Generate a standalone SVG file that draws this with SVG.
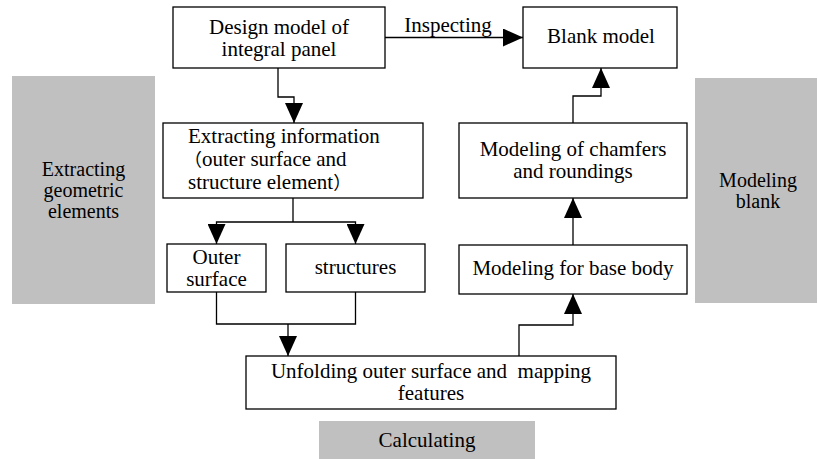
<svg xmlns="http://www.w3.org/2000/svg" width="818" height="459" viewBox="0 0 818 459">
<style>
  .box { fill: #ffffff; stroke: #000000; stroke-width: 1.3; }
  .gray { fill: #c0c0c0; stroke: none; }
  .t { font-family: 'Liberation Serif', 'Times New Roman', serif; font-size: 21px; fill: #000000; text-anchor: middle; }
  .g { font-size: 20px; }
  .ts { text-anchor: start; }
  .cjk { font-family: 'Noto Sans CJK SC', 'Noto Sans CJK JP', sans-serif; font-size: 18px; }
  .conn { fill: none; stroke: #000000; stroke-width: 1.3; }
</style>
<defs>
  <marker id="arrow" markerUnits="userSpaceOnUse" markerWidth="20" markerHeight="18" refX="20" refY="9" orient="auto">
    <path d="M0,0 L20,9 L0,18 z" fill="#000000"/>
  </marker>
</defs>
<rect width="818" height="459" fill="#ffffff"/>

<g id="stage-extracting">
  <rect class="gray" x="12" y="76" width="143" height="228"/>
  <text class="t g" x="83.5" y="176">Extracting</text>
  <text class="t g" x="83.5" y="197">geometric</text>
  <text class="t g" x="83.5" y="218">elements</text>
</g>
<g id="stage-modeling">
  <rect class="gray" x="695" y="78" width="122" height="225"/>
  <text class="t g" x="758" y="187">Modeling</text>
  <text class="t g" x="758" y="208">blank</text>
</g>
<g id="stage-calculating">
  <rect class="gray" x="319" y="421" width="216" height="38"/>
  <text class="t" x="427" y="447">Calculating</text>
</g>

<g id="connectors">
  <line class="conn" x1="385" y1="37.5" x2="523" y2="37.5" marker-end="url(#arrow)"/>
  <text class="t" x="448" y="32">Inspecting</text>
  <polyline class="conn" points="278,68 278,97 294,97 294,123" marker-end="url(#arrow)"/>
  <polyline class="conn" points="293,198 293,222"/>
  <polyline class="conn" points="293,222 216.5,222 216.5,244" marker-end="url(#arrow)"/>
  <polyline class="conn" points="293,222 355.5,222 355.5,244" marker-end="url(#arrow)"/>
  <polyline class="conn" points="216.5,292 216.5,324 355.5,324 355.5,292"/>
  <polyline class="conn" points="288,324 288,356" marker-end="url(#arrow)"/>
  <polyline class="conn" points="519,356 519,325 573,325 573,294" marker-end="url(#arrow)"/>
  <polyline class="conn" points="573,245 573,198" marker-end="url(#arrow)"/>
  <polyline class="conn" points="573,123 573,96 601,96 601,68" marker-end="url(#arrow)"/>
</g>

<g id="design-model">
  <rect class="box" x="173" y="7" width="212" height="61"/>
  <text class="t" x="279" y="33.5">Design model of</text>
  <text class="t" x="279" y="55.5">integral panel</text>
</g>
<g id="blank-model">
  <rect class="box" x="523" y="7" width="154" height="61"/>
  <text class="t" x="601" y="43">Blank model</text>
</g>
<g id="extracting-information">
  <rect class="box" x="163" y="123" width="260" height="75"/>
  <text class="t ts" x="188" y="142.5">Extracting information</text>
  <text class="t ts" x="184" y="165.5"><tspan class="cjk">（</tspan>outer surface and</text>
  <text class="t ts" x="188" y="188.5">structure element<tspan class="cjk">）</tspan></text>
</g>
<g id="chamfers">
  <rect class="box" x="459" y="123" width="228" height="75"/>
  <text class="t" x="573" y="156">Modeling of chamfers</text>
  <text class="t" x="573" y="178">and roundings</text>
</g>
<g id="outer-surface">
  <rect class="box" x="167" y="244" width="99" height="48"/>
  <text class="t" x="216.5" y="264">Outer</text>
  <text class="t" x="216.5" y="286">surface</text>
</g>
<g id="structures">
  <rect class="box" x="286" y="244" width="139" height="48"/>
  <text class="t" x="355.5" y="274">structures</text>
</g>
<g id="base-body">
  <rect class="box" x="459" y="245" width="228" height="49"/>
  <text class="t" x="573" y="275">Modeling for base body</text>
</g>
<g id="unfolding">
  <rect class="box" x="246" y="356" width="370" height="53"/>
  <text class="t" x="431" y="378" xml:space="preserve">Unfolding outer surface and  mapping</text>
  <text class="t" x="431" y="400">features</text>
</g>
</svg>
